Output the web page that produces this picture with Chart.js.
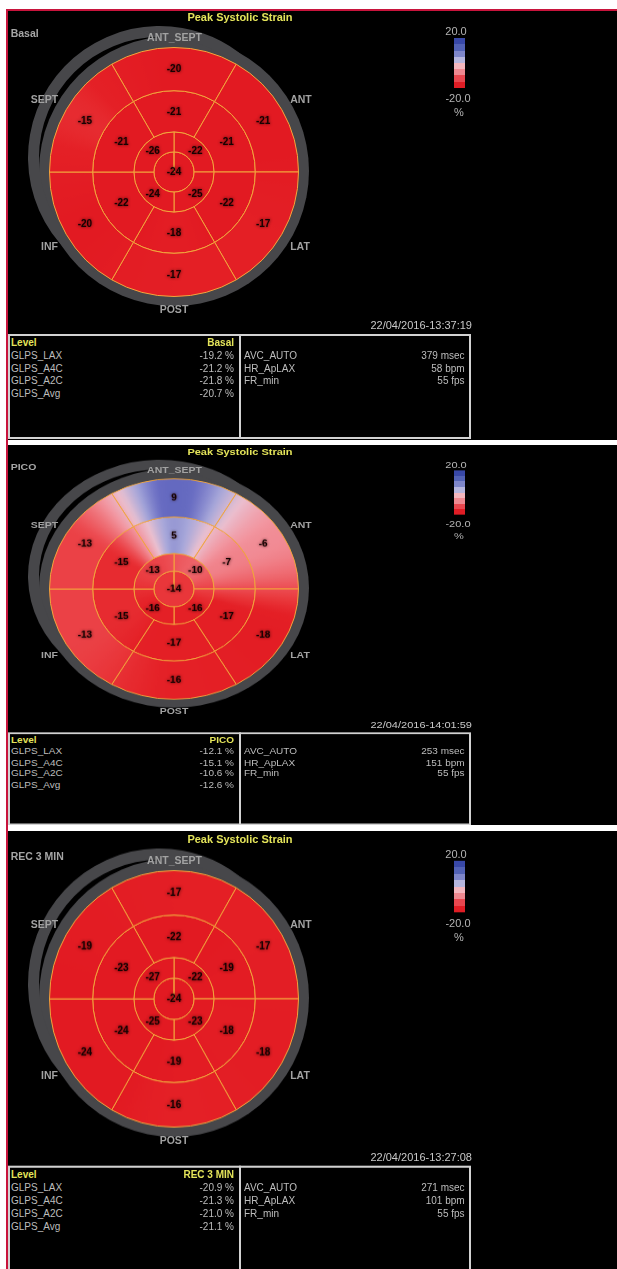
<!DOCTYPE html>
<html><head><meta charset="utf-8">
<script src="https://cdn.jsdelivr.net/npm/chart.js@4.4.1/dist/chart.umd.min.js"></script>
<style>
html,body{margin:0;padding:0;background:#fff;}
body{width:617px;height:1269px;position:relative;overflow:hidden;font-family:"Liberation Sans",Arial,Helvetica,sans-serif;}
.red{position:absolute;background:#c8143c;}
.panel{position:absolute;left:8px;width:609px;background:#000;overflow:hidden;}
.tpl{position:absolute;left:0;top:0;width:609px;height:429px;transform-origin:0 0;}
.t{position:absolute;white-space:nowrap;line-height:1;z-index:3;}
.box{position:absolute;border:2px solid #d2d2d2;box-sizing:border-box;}
canvas{position:absolute;z-index:1;}
</style></head><body>
<div class="red" style="left:6px;top:9px;width:2px;height:1260px"></div>
<div class="red" style="left:6px;top:9px;width:611px;height:2px"></div>
<div class="panel" id="p0" style="top:11px;height:429px"><div class="tpl" id="t0"></div></div>
<div class="panel" id="p1" style="top:445px;height:380px"><div class="tpl" id="t1" style="transform:translateY(1.5px) scaleY(0.885)"></div></div>
<div class="panel" id="p2" style="top:831px;height:438px"><div class="tpl" id="t2" style="transform:translateY(2px) scaleY(1.03)"></div></div>
<script>
// ---------- DATA ----------
const segmentNames = ['ANT_SEPT','ANT','LAT','POST','INF','SEPT']; // basal/mid order, clockwise from top
const apicalNames = ['ANT','LAT','INF','SEPT']; // quadrants UR, LR, LL, UL
const levels = ['Basal','PICO','REC 3 MIN'];
const timestamps = ['22/04/2016-13:37:19','22/04/2016-14:01:59','22/04/2016-13:27:08'];

const basal1 = [-20,-21,-17,-17,-20,-15];
const mid1   = [-21,-21,-22,-18,-22,-21];
const apical1= [-22,-25,-24,-26];
const apex1  = [-24];

const basal2 = [9,-6,-18,-16,-13,-13];
const mid2   = [5,-7,-17,-17,-15,-15];
const apical2= [-10,-16,-16,-13];
const apex2  = [-14];

const basal3 = [-17,-17,-18,-16,-24,-19];
const mid3   = [-22,-19,-18,-19,-24,-23];
const apical3= [-22,-23,-25,-27];
const apex3  = [-24];

const glpsLabels = ['GLPS_LAX','GLPS_A4C','GLPS_A2C','GLPS_Avg'];
const glps1 = [-19.2,-21.2,-21.8,-20.7];
const glps2 = [-12.1,-15.1,-10.6,-12.6];
const glps3 = [-20.9,-21.3,-21.0,-21.1];
const paramLabels = ['AVC_AUTO','HR_ApLAX','FR_min'];
const params1 = ['379 msec','58 bpm','55 fps'];
const params2 = ['253 msec','151 bpm','55 fps'];
const params3 = ['271 msec','101 bpm','55 fps'];

const legendMax = '20.0', legendMin = '-20.0', legendUnit = '%';

// ---------- COLOUR MAP ----------
const cmStops = [
  [-20,[226,26,34]],[-16,[228,32,38]],[-14,[233,54,58]],[-12,[236,76,82]],[-10,[238,100,106]],
  [-5,[242,150,160]],[0,[234,192,208]],[4,[168,168,218]],[8,[104,108,194]],[20,[52,66,166]]
];
function cmap(v){
  if(v<=cmStops[0][0]) return cmStops[0][1];
  for(let i=1;i<cmStops.length;i++){
    if(v<=cmStops[i][0]){
      const a=cmStops[i-1], b=cmStops[i]; const f=(v-a[0])/(b[0]-a[0]);
      return a[1].map((c,k)=>Math.round(c+(b[1][k]-c)*f));
    }
  }
  return cmStops[cmStops.length-1][1];
}
const rgb = c => `rgb(${c[0]},${c[1]},${c[2]})`;

function ringFill(c, ring){
  const chart=c.chart, ca=chart.chartArea;
  const flat = rgb(cmap(ring.vals[0]));
  if(!ca || ring.vals.length===1 || !chart.ctx.createConicGradient) return flat;
  chart.$grad = chart.$grad || {};
  if(chart.$grad[ring.key]) return chart.$grad[ring.key];
  const cx=(ca.left+ca.right)/2, cy=(ca.top+ca.bottom)/2;
  const n=ring.vals.length;
  const g=chart.ctx.createConicGradient(ring.centerStart, cx, cy);
  const N=144;
  for(let k=0;k<=N;k++){
    const t=k/N, p=t*n, i=Math.floor(p)%n;
    let f=p-Math.floor(p); f=f*f*(3-2*f);
    const v=ring.vals[i]*(1-f)+ring.vals[(i+1)%n]*f;
    g.addColorStop(t, rgb(cmap(v)));
  }
  chart.$grad[ring.key]=g;
  return g;
}

const decor = {
  id:'decor',
  beforeDatasetsDraw(chart){
    const ca=chart.chartArea, ctx=chart.ctx;
    const cx=(ca.left+ca.right)/2, cy=(ca.top+ca.bottom)/2;
    ctx.save();
    ctx.fillStyle='#47474a';
    ctx.beginPath(); ctx.arc(cx,cy-1,135,0,Math.PI*2); ctx.fill();
    const ax=cx-14.5, ay=cy-14.5, a0=100*Math.PI/180, a1=315*Math.PI/180;
    ctx.beginPath(); ctx.arc(ax,ay,131.5,a0,a1); ctx.arc(ax,ay,120.5,a1,a0,true); ctx.closePath(); ctx.fill();
    ctx.restore();
  }
};
const valueLabels = {
  id:'valueLabels',
  afterDatasetsDraw(chart){
    const ctx=chart.ctx;
    ctx.save();
    ctx.font='bold 10px "Liberation Sans", Arial, sans-serif';
    ctx.textAlign='center'; ctx.textBaseline='middle';
    ctx.fillStyle='#160202';
    ctx.shadowColor='rgba(40,0,0,0.85)'; ctx.shadowBlur=3;
    chart.data.datasets.forEach((ds,di)=>{
      const meta=chart.getDatasetMeta(di);
      meta.data.forEach((arc,j)=>{
        const p = ds.strain.length===1 ? {x:arc.x,y:arc.y} : arc.tooltipPosition();
        ctx.fillText(String(ds.strain[j]), p.x, p.y+0.5);
      });
    });
    ctx.restore();
  }
};

function makeChart(canvas, rings){
  const datasets = rings.map(r=>({
    data: r.vals.map(()=>1),
    strain: r.vals,
    weight: r.weight,
    rotation: r.rot,
    backgroundColor: c=>ringFill(c,r),
    borderColor:'#f3a53c',
    borderWidth:1,
    hoverOffset:0
  }));
  new Chart(canvas,{
    type:'doughnut',
    data:{labels:segmentNames, datasets},
    options:{responsive:false, animation:false, events:[], cutout:0,
      layout:{padding:30},
      plugins:{legend:{display:false}, tooltip:{enabled:false}}},
    plugins:[decor,valueLabels]
  });
}

function txt(parent, s, x, y, o){
  const d=document.createElement('div'); d.className='t'; d.textContent=s;
  d.style.left=x+'px'; d.style.top=y+'px';
  d.style.font=(o.bold?'bold ':'')+o.size+'px "Liberation Sans", Arial, sans-serif';
  d.style.color=o.color;
  const tx = o.align==='l'?'0':(o.align==='r'?'-100%':'-50%');
  d.style.transform=`translate(${tx},-50%)`;
  parent.appendChild(d);
}

const panelData = [
  {basal:basal1, mid:mid1, apical:apical1, apex:apex1, glps:glps1, params:params1},
  {basal:basal2, mid:mid2, apical:apical2, apex:apex2, glps:glps2, params:params2},
  {basal:basal3, mid:mid3, apical:apical3, apex:apex3, glps:glps3, params:params3}
];

panelData.forEach((pd,pi)=>{
  const T=document.getElementById('t'+pi);
  const gray='#a6a6a6', yel='#e4e45a', tg='#bdbdbd';
  txt(T,'Peak Systolic Strain',232,5.8,{bold:1,size:11,color:yel});
  txt(T,levels[pi],2.7,22.3,{bold:1,size:10.5,color:gray,align:'l'});
  const lab={bold:1,size:10.5,color:'#a2a2a2'};
  txt(T,'ANT_SEPT',166.5,25.7,lab);
  txt(T,'SEPT',36.5,88,lab);
  txt(T,'ANT',293,88,lab);
  txt(T,'INF',41.5,235,lab);
  txt(T,'LAT',292,235,lab);
  txt(T,'POST',166,297.5,lab);
  // colour scale legend
  txt(T,legendMax,448,20,{size:11,color:'#b4b4b4'});
  txt(T,legendMin,450,86.7,{size:11,color:'#b4b4b4'});
  txt(T,legendUnit,451,100.7,{size:11,color:'#b4b4b4'});
  const bar=document.createElement('div');
  bar.style.cssText='position:absolute;left:445.7px;top:27.3px;width:11.3px;height:50px;background:linear-gradient(to bottom,#3848a8 0 12.5%,#5262b6 12.5% 25%,#7e86ca 25% 37.5%,#b6b6de 37.5% 50%,#f4b6be 50% 62.5%,#ee8890 62.5% 75%,#e8474f 75% 87.5%,#e01d25 87.5% 100%)';
  T.appendChild(bar);
  // chart
  const cv=document.createElement('canvas');
  cv.width=310; cv.height=310; cv.style.left='11px'; cv.style.top='6px';
  cv.style.width='310px'; cv.style.height='310px';
  T.appendChild(cv);
  makeChart(cv,[
    {key:'b',vals:pd.basal,weight:43,rot:-30,centerStart:-Math.PI/2},
    {key:'m',vals:pd.mid,weight:41,rot:-30,centerStart:-Math.PI/2},
    {key:'a',vals:pd.apical,weight:20,rot:0,centerStart:-Math.PI/4},
    {key:'x',vals:pd.apex,weight:20,rot:0,centerStart:0}
  ]);
  // timestamp + tables
  txt(T,timestamps[pi],464,314,{size:11,color:'#c8c8c8',align:'r'});
  const b1=document.createElement('div'); b1.className='box';
  b1.style.cssText+='left:0px;top:323.3px;width:233px;height:105px;';
  T.appendChild(b1);
  const b2=document.createElement('div'); b2.className='box';
  b2.style.cssText+='left:231px;top:323.3px;width:232px;height:105px;';
  T.appendChild(b2);
  const rows=[331,344,357,369,382];
  txt(T,'Level',3,rows[0],{bold:1,size:10,color:yel,align:'l'});
  txt(T,levels[pi],226,rows[0],{bold:1,size:10,color:yel,align:'r'});
  glpsLabels.forEach((l,i)=>{
    txt(T,l,3,rows[i+1],{size:10,color:tg,align:'l'});
    txt(T,pd.glps[i].toFixed(1)+' %',226,rows[i+1],{size:10,color:tg,align:'r'});
  });
  paramLabels.forEach((l,i)=>{
    txt(T,l,236,rows[i+1],{size:10,color:tg,align:'l'});
    txt(T,pd.params[i],456.6,rows[i+1],{size:10,color:tg,align:'r'});
  });
});
</script>
</body></html>
